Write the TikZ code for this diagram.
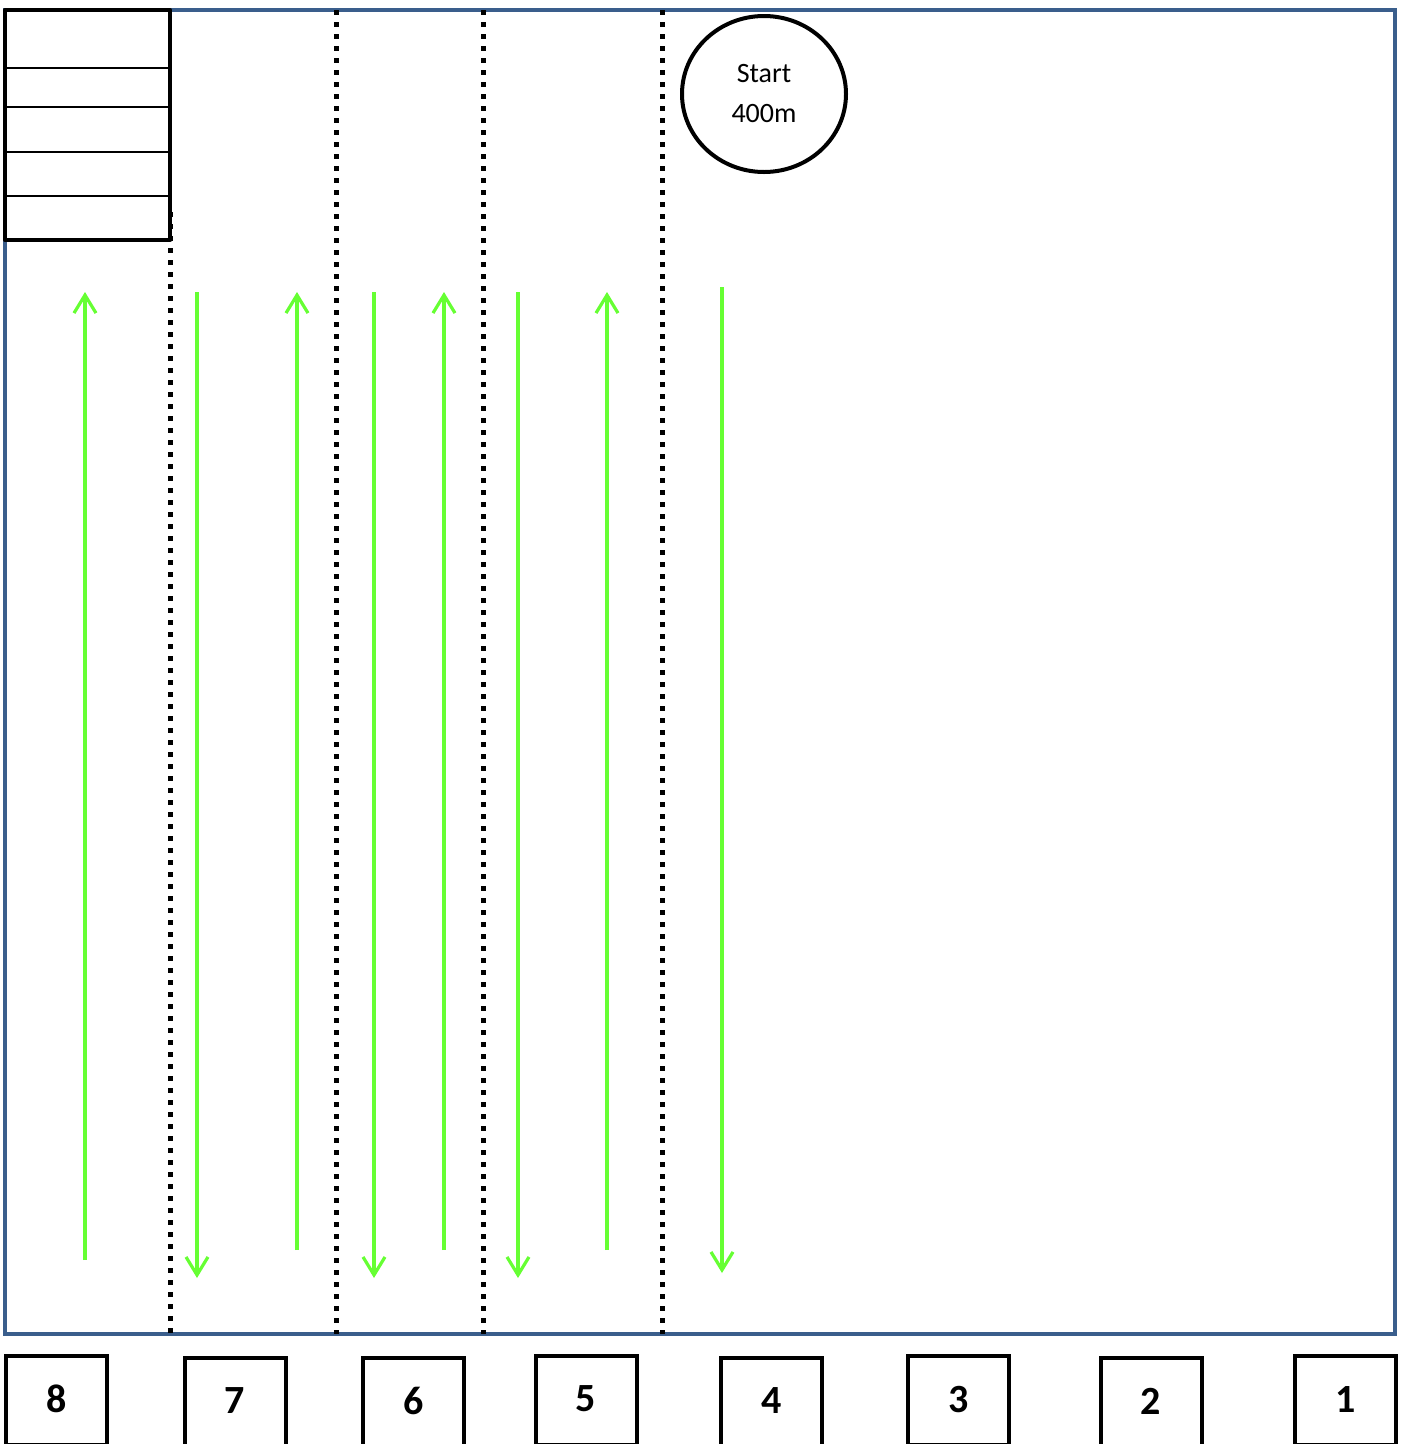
\documentclass[tikz,border=0pt]{standalone}
\usepackage{fontspec}
\setmainfont{Carlito}
\usetikzlibrary{arrows.meta,shapes.geometric}
\definecolor{poolblue}{RGB}{58,94,140}
\definecolor{lanegreen}{RGB}{102,255,51}
\tikzset{
  lanesep/.style={line width=5pt, dash pattern=on 5pt off 7pt},
  swim/.style={draw=lanegreen, line width=3.2pt, -{Straight Barb[length=18pt,width=22pt,line width=3.2pt]}},
  blockbox/.style={draw, line width=4pt, minimum width=101pt, minimum height=89pt, anchor=north, inner sep=0pt, font=\fontsize{40}{44}\selectfont\bfseries},
  thinrow/.style={line width=1.8pt},
}
\newcommand{\lanenum}[1]{\raisebox{3pt}{#1}}
\begin{document}
\begin{tikzpicture}[x=1pt,y=-1pt]
\useasboundingbox (0,0) rectangle (1404,1444);
% pool outline
\draw[poolblue, line width=4pt] (5,10) rectangle (1395,1334);
% lane separators
\draw[lanesep] (170,212) -- (170,1334);
\draw[lanesep] (336,10) -- (336,1334);
\draw[lanesep] (483,10) -- (483,1334);
\draw[lanesep] (662,10) -- (662,1334);
% top-left box
\fill[white] (5,10) rectangle (170,240);
\foreach \yy in {68,107,152,196} \draw[thinrow] (5,\yy) -- (170,\yy);
\draw[line width=4.5pt, line join=round] (5,10) rectangle (170,240);
% start circle
\node[draw, ellipse, line width=4pt, minimum width=164pt, minimum height=156pt, inner sep=0pt, align=center, font=\fontsize{28}{40}\selectfont] (start) at (764,94) {\raisebox{2pt}{Start}\\\raisebox{2pt}{400m}};
% swim arrows
\coordinate (a1s) at (85,1260);  \coordinate (a1e) at (85,292);
\coordinate (a2s) at (197,292);  \coordinate (a2e) at (197,1278);
\coordinate (a3s) at (297,1250); \coordinate (a3e) at (297,292);
\coordinate (a4s) at (374,292);  \coordinate (a4e) at (374,1278);
\coordinate (a5s) at (444,1250); \coordinate (a5e) at (444,292);
\coordinate (a6s) at (518,292);  \coordinate (a6e) at (518,1278);
\coordinate (a7s) at (607,1250); \coordinate (a7e) at (607,292);
\coordinate (a8s) at (722,287);  \coordinate (a8e) at (722,1273);
\foreach \i in {1,...,8} \draw[swim] (a\i s) -- (a\i e);
% lane blocks
\node[blockbox] (b8) at (56.5,1354) {\lanenum{8}};
\node[blockbox] (b7) at (235,1356) {\lanenum{7}};
\node[blockbox] (b6) at (413.5,1356) {\lanenum{6}};
\node[blockbox] (b5) at (586,1354) {\lanenum{5}};
\node[blockbox] (b4) at (771.5,1356) {\lanenum{4}};
\node[blockbox] (b3) at (958.5,1354) {\lanenum{3}};
\node[blockbox] (b2) at (1151,1356) {\lanenum{2}};
\node[blockbox] (b1) at (1345.5,1354) {\lanenum{1}};
\end{tikzpicture}
\end{document}
